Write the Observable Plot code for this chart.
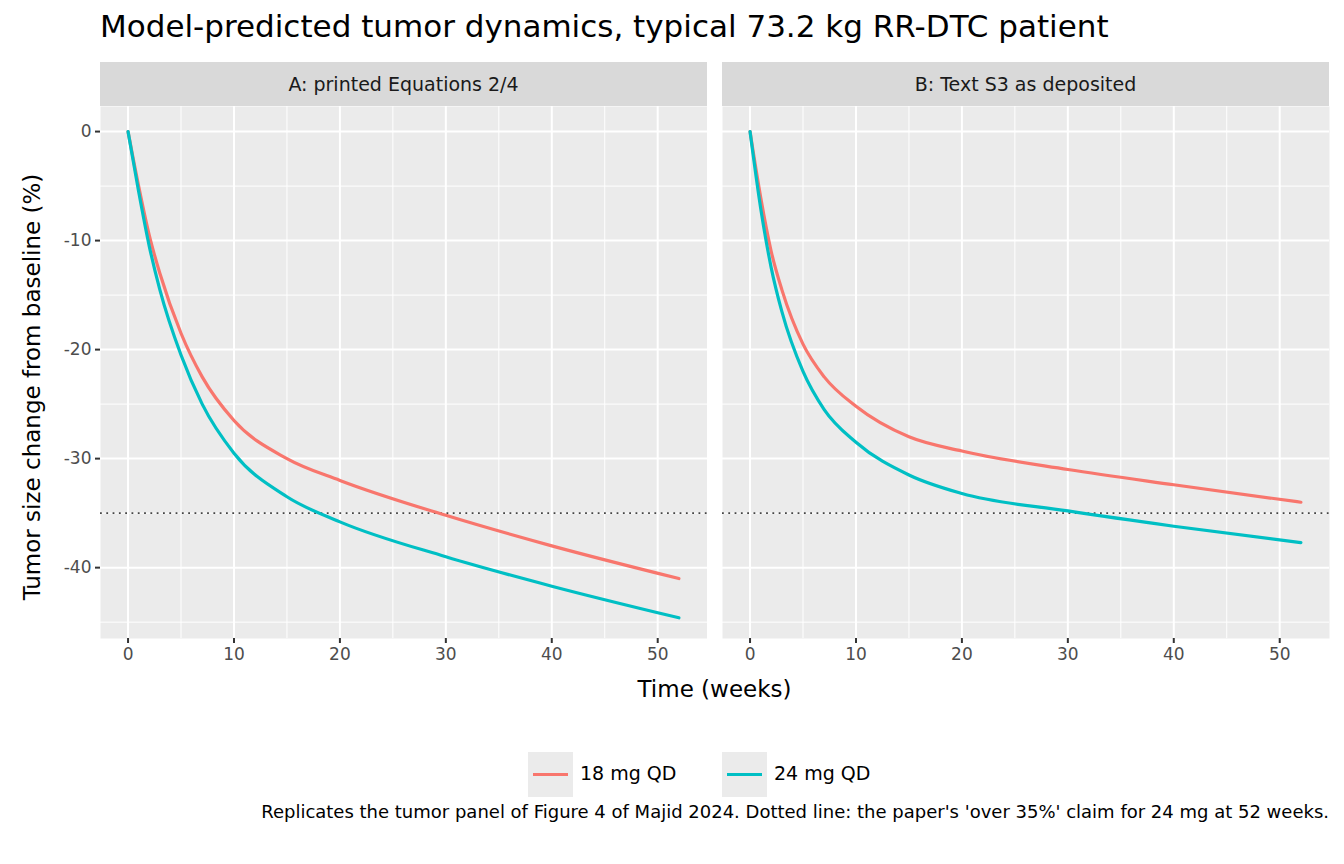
<!DOCTYPE html>
<html><head><meta charset="utf-8">
<script src="https://cdn.jsdelivr.net/npm/d3@7"></script>
<script src="https://cdn.jsdelivr.net/npm/@observablehq/plot@0.6"></script>
<style>
body{margin:0;background:#fff;font-family:"DejaVu Sans",sans-serif;}
#root{position:relative;width:1344px;height:864px;overflow:hidden;}
.abs{position:absolute;}
.strip{background:#d9d9d9;color:#1a1a1a;font-size:19px;display:flex;align-items:center;justify-content:center;}
</style></head><body><div id="root"></div>
<script>
const weeks = [0,1,2,3,5,7,10,15,20,30,40,52];
const panelA18 = [0,-5,-9.5,-13,-18.5,-22.5,-26.5,-30,-32,-35.2,-38,-41];
const panelA24 = [0,-5.5,-10.5,-14.5,-20.5,-25,-29.5,-33.5,-35.8,-39,-41.7,-44.6];
const panelB18 = [0,-6,-11,-14.5,-19.5,-22.5,-25.2,-28,-29.3,-31,-32.4,-34];
const panelB24 = [0,-7,-12.5,-16.5,-22,-25.5,-28.5,-31.5,-33.2,-34.8,-36.2,-37.7];
const doses = ["18 mg QD","24 mg QD"];
const colors = ["#F8766D","#00BFC4"];
const panels = ["A: printed Equations 2/4","B: Text S3 as deposited"];
const claimLine = -35;
const xMajor=[0,10,20,30,40,50], xMinor=[5,15,25,35,45];
const yMajor=[0,-10,-20,-30,-40], yMinor=[-5,-15,-25,-35,-45];

const root=document.getElementById("root");
function add(html,style,cls){const d=document.createElement("div");d.className="abs "+(cls||"");d.innerHTML=html;Object.assign(d.style,style);root.appendChild(d);return d;}

add("Model-predicted tumor dynamics, typical 73.2 kg RR-DTC patient",{left:"100px",top:"8px",fontSize:"31px",color:"#000",whiteSpace:"nowrap"});
add(panels[0],{left:"100px",top:"62px",width:"607px",height:"44px"},"strip");
add(panels[1],{left:"722px",top:"62px",width:"607px",height:"44px"},"strip");

function makePlot(s18,s24,left){
  const data=[];
  weeks.forEach((w,i)=>{data.push({w,v:s18[i],d:doses[0]});data.push({w,v:s24[i],d:doses[1]});});
  const p=Plot.plot({
    width: left?707:622, height:572,
    marginTop:0, marginBottom:40, marginLeft:left?100:0, marginRight:left?0:15,
    x:{domain:[-2.6,54.7],label:null},
    y:{domain:[-46.5,2.3],label:null},
    color:{domain:doses,range:colors},
    style:{fontSize:"17px",color:"#4d4d4d",fontFamily:"DejaVu Sans"},
    marks:[
      Plot.frame({fill:"#ebebeb",stroke:null}),
      Plot.ruleX(xMinor,{stroke:"#fff",strokeWidth:1}),
      Plot.ruleY(yMinor,{stroke:"#fff",strokeWidth:1}),
      Plot.ruleX(xMajor,{stroke:"#fff",strokeWidth:2}),
      Plot.ruleY(yMajor,{stroke:"#fff",strokeWidth:2}),
      Plot.axisX({ticks:xMajor,tickSize:5,tickPadding:4,stroke:"#333",strokeWidth:2,tickFormat:d=>d}),
      left ? Plot.axisY({ticks:yMajor,tickSize:5,tickPadding:4,stroke:"#333",strokeWidth:2,tickFormat:d=>d}) : null,
      Plot.ruleY([claimLine],{stroke:"#444",strokeWidth:1.8,strokeDasharray:"1.8,4.5"}),
      Plot.line(data,{x:"w",y:"v",stroke:"d",strokeWidth:3.2,curve:"monotone-x"})
    ]
  });
  p.style.position="absolute";p.style.top="106px";p.style.left=(left?0:722)+"px";
  root.appendChild(p);
}
makePlot(panelA18,panelA24,true);
makePlot(panelB18,panelB24,false);

add("Time (weeks)",{left:"0",width:"1429px",top:"676px",textAlign:"center",fontSize:"23px",color:"#000"});
add("Tumor size change from baseline (%)",{left:"32px",top:"387px",fontSize:"23px",color:"#000",whiteSpace:"nowrap",transform:"translate(-50%,-50%) rotate(-90deg)"});

doses.forEach((d,i)=>{
  const x=i?722:528;
  add(`<svg width="45" height="45"><rect width="45" height="45" fill="#ebebeb"/><line x1="5" x2="40" y1="22.5" y2="22.5" stroke="${colors[i]}" stroke-width="3.2"/></svg>`,{left:x+"px",top:"752px",height:"45px"});
  add(d,{left:(x+52)+"px",top:"762px",fontSize:"19px",color:"#000",whiteSpace:"nowrap"});
});
add("Replicates the tumor panel of Figure 4 of Majid 2024. Dotted line: the paper's 'over 35%' claim for 24 mg at 52 weeks.",{right:"15px",top:"801px",fontSize:"18px",color:"#000",whiteSpace:"nowrap"});
</script></body></html>
